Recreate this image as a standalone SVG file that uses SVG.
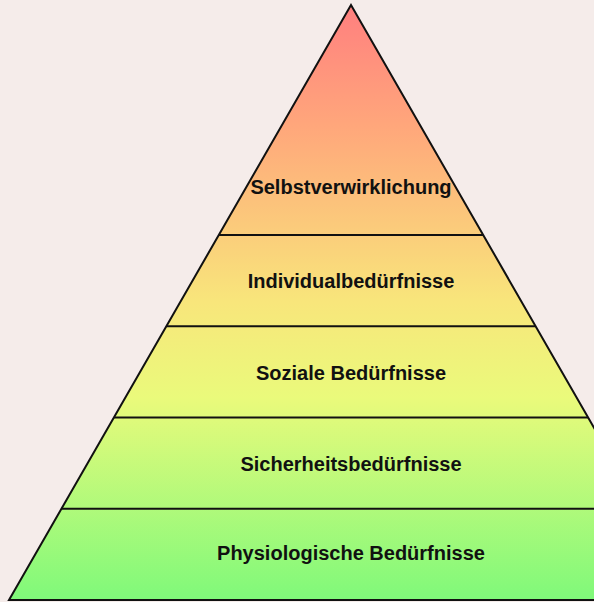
<svg xmlns="http://www.w3.org/2000/svg" width="594" height="602" viewBox="0 0 594 602">
<style>
.lbl{font-family:"Liberation Sans",Arial,sans-serif;font-weight:bold;font-size:20px;fill:#111;text-anchor:middle}
.edge{stroke:#111;stroke-width:2;fill:none}
</style>
<defs>
<linearGradient id="g" x1="0" y1="5" x2="0" y2="600" gradientUnits="userSpaceOnUse">
<stop offset="0" stop-color="#FF7F7F"/>
<stop offset="0.2" stop-color="#FFA67B"/>
<stop offset="0.5" stop-color="#F8E67B"/>
<stop offset="0.66" stop-color="#EAFA7B"/>
<stop offset="1" stop-color="#7FF97A"/>
</linearGradient>
</defs>
<rect width="594" height="602" fill="#F5ECEA"/>
<g id="pyramid">
<polygon points="351,5 9,600 693,600" fill="url(#g)" stroke="#111" stroke-width="2" stroke-linejoin="miter"/>
</g>
<g id="connectors">
<line class="edge" x1="219" y1="235" x2="483" y2="235"/>
<line class="edge" x1="166.5" y1="326.25" x2="535.5" y2="326.25"/>
<line class="edge" x1="114" y1="417.5" x2="588" y2="417.5"/>
<line class="edge" x1="61.5" y1="508.75" x2="594" y2="508.75"/>
</g>
<g id="n1"><text class="lbl" x="351" y="194">Selbstverwirklichung</text></g>
<g id="n2"><text class="lbl" x="351" y="288">Individualbedürfnisse</text></g>
<g id="n3"><text class="lbl" x="351" y="380">Soziale Bedürfnisse</text></g>
<g id="n4"><text class="lbl" x="351" y="471">Sicherheitsbedürfnisse</text></g>
<g id="n5"><text class="lbl" x="351" y="560">Physiologische Bedürfnisse</text></g>
</svg>
